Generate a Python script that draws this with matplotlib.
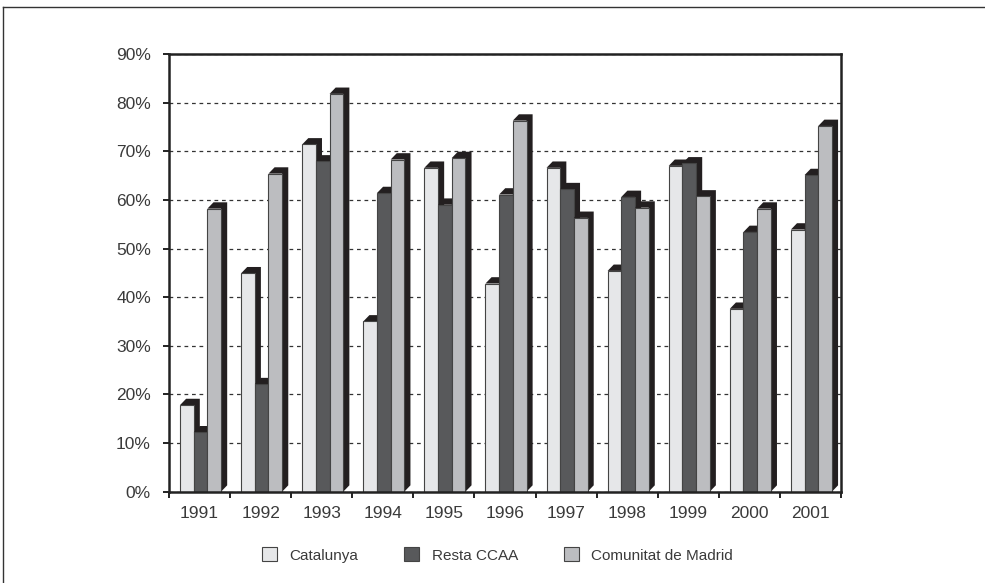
import matplotlib.pyplot as plt
import numpy as np
from matplotlib.patches import Patch
from matplotlib.lines import Line2D

plt.rcParams['font.family'] = ['Liberation Sans', 'DejaVu Sans']

anys = ['1991', '1992', '1993', '1994', '1995', '1996', '1997', '1998', '1999', '2000', '2001']
catalunya = [17.8, 44.9, 71.4, 35.0, 66.6, 42.8, 66.6, 45.4, 67.0, 37.6, 53.9]
resta_ccaa = [12.2, 22.1, 67.9, 61.4, 59.0, 61.1, 62.2, 60.6, 67.5, 53.4, 65.1]
madrid = [58.2, 65.4, 81.8, 68.3, 68.6, 76.3, 56.3, 58.4, 60.7, 58.2, 75.2]
series = ['Catalunya', 'Resta CCAA', 'Comunitat de Madrid']
colors = ['#e6e7e9', '#58595b', '#bcbdc0']
shadow = '#231f20'

fig = plt.figure(figsize=(9.85, 5.83), dpi=100)
ax = fig.add_axes([0.1716, 0.1567, 0.6822, 0.7507])

# borde de la figura (solo arriba e izquierda)
fig.add_artist(Line2D([0.003, 1], [0.988, 0.988], color='#333333', lw=1, transform=fig.transFigure))
fig.add_artist(Line2D([0.003, 0.003], [0, 0.988], color='#333333', lw=1, transform=fig.transFigure))

x = np.arange(len(anys))
w = 0.224
dx = 0.1     # ~6 px
dy = 1.3     # ~6 px
offsets = [-w + 0.016, 0.016, w + 0.016]

# barras con sombra pseudo-3D
for k, (vals, c) in enumerate(zip([catalunya, resta_ccaa, madrid], colors)):
    for xi, h in zip(x, vals):
        x0 = xi + offsets[k] - w / 2
        x1 = x0 + w
        poly_x = [x0, x0 + dx, x1 + dx, x1 + dx, x1, x1]
        poly_y = [h, h + dy, h + dy, dy, 0, h]
        ax.fill(poly_x, poly_y, color=shadow, zorder=3 + 2 * k, lw=0)
    ax.bar(x + offsets[k], vals, width=w, color=c, edgecolor='#444444',
           linewidth=0.8, zorder=4 + 2 * k)

ax.set_xlim(-0.5, 10.5)
ax.set_ylim(0, 90)
ax.set_yticks(np.arange(0, 91, 10))
ax.set_yticklabels([f'{v}%' for v in range(0, 91, 10)])
ax.yaxis.grid(True, linestyle=(0, (3, 3)), color='#333333', lw=0.9, zorder=1)
ax.set_axisbelow(True)

ax.set_xticks(np.arange(-0.5, 11, 1))
ax.set_xticklabels([])
ax.set_xticks(x, minor=True)
ax.set_xticklabels(anys, minor=True)
ax.tick_params(axis='x', which='major', direction='out', length=4, width=1.4, color='#222222')
ax.tick_params(axis='x', which='minor', length=0, pad=10, labelsize=12.5, labelcolor='#3a3a3a')
ax.tick_params(axis='y', direction='out', length=4, width=1.4, color='#222222', pad=9,
               labelsize=12.5, labelcolor='#3a3a3a')

for s in ax.spines.values():
    s.set_linewidth(1.8)
    s.set_color('#222222')
    s.set_zorder(10)

handles = [Patch(facecolor=c, edgecolor='#444444', linewidth=0.8) for c in colors]
fig.legend(handles, series, loc='center', bbox_to_anchor=(0.505, 1 - 555 / 583), ncol=3,
           frameon=False, fontsize=11, handlelength=1.0, handleheight=1.0,
           columnspacing=3.0, handletextpad=0.8, labelcolor='#3a3a3a')

fig.savefig('out.png', dpi=100)
